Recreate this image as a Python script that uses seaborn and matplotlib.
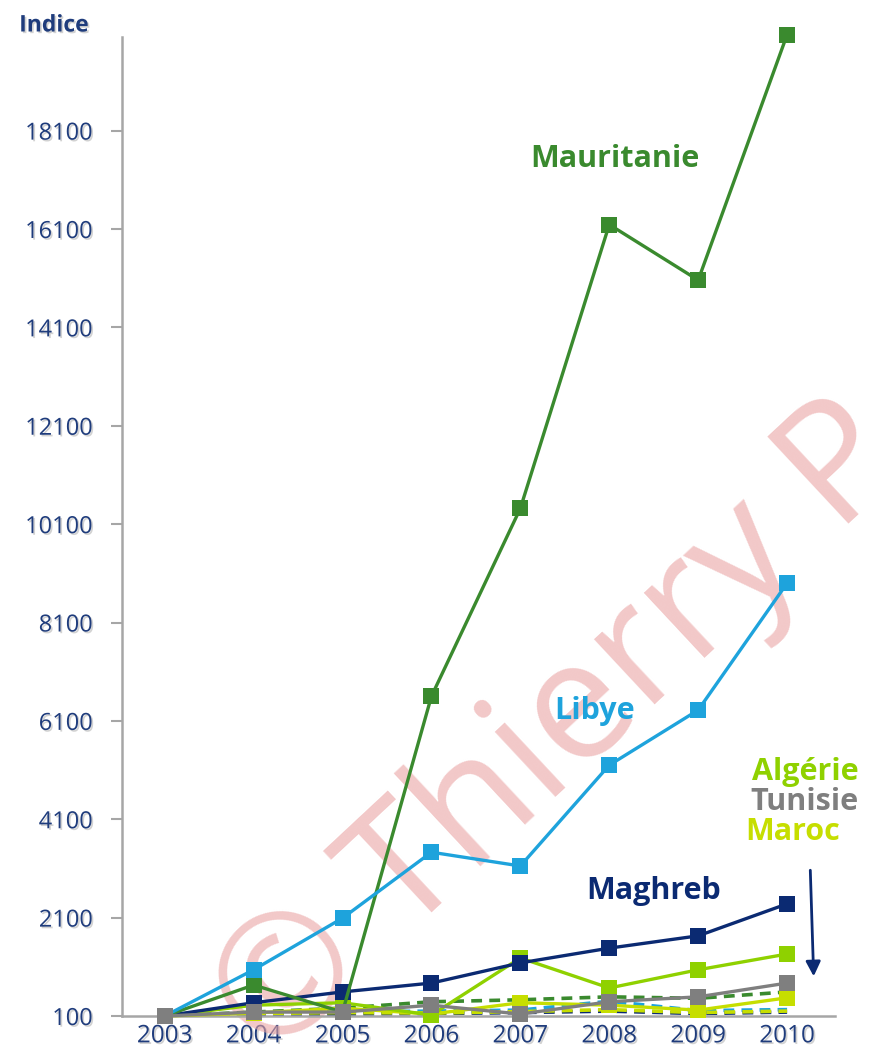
import numpy as np
import pandas as pd
import matplotlib
matplotlib.use("Agg")
import matplotlib.pyplot as plt
import matplotlib.patheffects as pe
import seaborn as sns

# %% data (indice, base 100 en 2003)
years = [2003, 2004, 2005, 2006, 2007, 2008, 2009, 2010]
mauritanie = [100, 730, 180, 6600, 10420, 16190, 15060, 20050]
libye = [100, 1040, 2090, 3430, 3150, 5200, 6320, 8900]
maghreb = [100, 370, 590, 770, 1180, 1480, 1730, 2380]
algerie = [100, 320, 370, 120, 1280, 670, 1040, 1360]
tunisie = [100, 180, 180, 320, 140, 390, 490, 770]
maroc = [100, 160, 260, 140, 370, 320, 220, 470]

# dashed series close to the bottom
dash_green = [100, 180, 260, 390, 430, 490, 460, 590]
dash_blue = [100, 130, 180, 200, 220, 400, 210, 230]
dash_navy = [100, 120, 140, 150, 170, 200, 150, 180]
dash_yellow = [100, 150, 170, 160, 190, 230, 170, 200]

yticks = [100, 2100, 4100, 6100, 8100, 10100, 12100, 14100, 16100, 18100]

# colours
c_maur = "#3a8a2e"
c_lib = "#1ea3dc"
c_mag = "#0b2a72"
c_alg = "#8fd100"
c_tun = "#7f7f7f"
c_mar = "#c6de00"
c_tick = "#1f3c7c"

sns.set_style("white")
plt.rcParams["font.family"] = ["Open Sans", "DejaVu Sans"]

fig = plt.figure(figsize=(8.69, 10.62), dpi=100)
ax = fig.add_axes([0.1404, 0.0433, 0.8206, 0.9217])

# watermark, under the lines
ax.text(0.645, 0.31, "© Thierry P", transform=fig.transFigure, color="#eaa4a4",
        alpha=0.6, fontsize=120, rotation=43, ha="center", va="center",
        zorder=1, clip_on=False)

# dashed lines first, underneath
for vals, col in [(dash_green, c_maur), (dash_blue, c_lib), (dash_navy, c_mag), (dash_yellow, c_mar)]:
    sns.lineplot(x=years, y=vals, ax=ax, color=col, lw=2.6, linestyle=(0, (3, 2)), zorder=2)

# %% main series
series = [
    (maroc, c_mar),
    (algerie, c_alg),
    (maghreb, c_mag),
    (mauritanie, c_maur),
    (libye, c_lib),
    (tunisie, c_tun),
]
for vals, col in series:
    sns.lineplot(x=years, y=vals, ax=ax, color=col, lw=2.4, marker="s",
                 markersize=11, markeredgewidth=0, zorder=3, clip_on=False)

ax.set_xlim(2002.52, 2010.54)
ax.set_ylim(100, 20000)
ax.set_yticks(yticks)
ax.set_yticklabels([str(v) for v in yticks])
ax.set_xticks(years)
ax.set_xticklabels([str(y) for y in years])

for s in ["top", "right"]:
    ax.spines[s].set_visible(False)
for s in ["left", "bottom"]:
    ax.spines[s].set_color("#a6a6a6")
    ax.spines[s].set_linewidth(1.8)
ax.tick_params(axis="y", length=8, width=1.5, color="#a6a6a6", labelsize=17,
               labelcolor=c_tick, pad=13, left=True)
ax.tick_params(axis="x", length=0, labelsize=17.5, labelcolor=c_tick, pad=6)
ax.set_xlabel("")
ax.set_ylabel("")
shadow = [pe.withSimplePatchShadow(offset=(1.2, -1.2), shadow_rgbFace="#7f7f7f", alpha=0.35)]
for t in ax.get_xticklabels() + ax.get_yticklabels():
    t.set_path_effects(shadow)

fig.text(0.062, 0.976, "Indice", color=c_tick, fontsize=16.5, fontweight="bold",
         ha="center", va="center", path_effects=shadow)

# %% series labels
lab = dict(fontsize=22, fontweight="bold", ha="center", va="center")
ax.text(2008.06, 17530, "Mauritanie", color=c_maur, **lab)
ax.text(2007.83, 6300, "Libye", color=c_lib, **lab)
ax.text(2008.5, 2650, "Maghreb", color=c_mag, **lab)
ax.text(2010.2, 5060, "Algérie", color=c_alg, **lab)
ax.text(2010.2, 4450, "Tunisie", color=c_tun, **lab)
ax.text(2010.06, 3840, "Maroc", color=c_mar, **lab)

ax.annotate("", xy=(2010.3, 850), xytext=(2010.26, 3120),
            arrowprops=dict(arrowstyle="-|>", color=c_mag, lw=2, mutation_scale=22))

fig.savefig("out.png", dpi=100)
